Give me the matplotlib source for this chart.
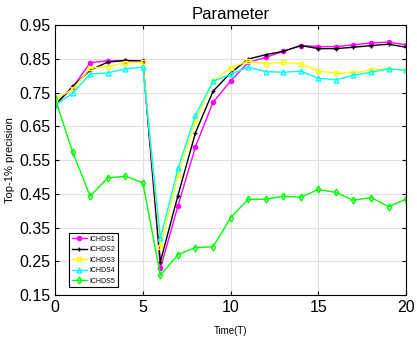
import numpy as np
import matplotlib.pyplot as plt

plt.rcParams['font.family'] = ['Liberation Sans', 'DejaVu Sans']

t = np.arange(21)

ichds1 = [0.713, 0.765, 0.838, 0.844, 0.844, 0.844, 0.229, 0.414, 0.590, 0.721, 0.784,
          0.839, 0.854, 0.872, 0.889, 0.886, 0.886, 0.891, 0.897, 0.899, 0.891]
ichds2 = [0.713, 0.768, 0.816, 0.840, 0.845, 0.843, 0.249, 0.445, 0.631, 0.754, 0.808,
          0.849, 0.862, 0.872, 0.889, 0.880, 0.880, 0.884, 0.889, 0.893, 0.884]
ichds3 = [0.729, 0.760, 0.822, 0.827, 0.838, 0.840, 0.293, 0.506, 0.666, 0.783, 0.823,
          0.843, 0.835, 0.839, 0.835, 0.814, 0.807, 0.808, 0.817, 0.821, 0.816]
ichds4 = [0.712, 0.748, 0.805, 0.808, 0.820, 0.825, 0.318, 0.525, 0.683, 0.783, 0.804,
          0.825, 0.812, 0.810, 0.813, 0.792, 0.788, 0.801, 0.810, 0.820, 0.816]
ichds5 = [0.733, 0.574, 0.443, 0.497, 0.502, 0.483, 0.209, 0.270, 0.291, 0.293, 0.379,
          0.434, 0.434, 0.443, 0.440, 0.463, 0.454, 0.431, 0.439, 0.412, 0.434]

names = ['ICHDS1', 'ICHDS2', 'ICHDS3', 'ICHDS4', 'ICHDS5']
series = [ichds1, ichds2, ichds3, ichds4, ichds5]
colors = ['#ff00ff', '#000000', '#ffff00', '#00ffff', '#00ff00']
markers = ['o', '+', 's', '^', 'd']

fig = plt.figure(figsize=(4.17, 3.42), dpi=100)
ax = fig.add_axes([0.132, 0.137, 0.842, 0.790])

for y, nm, c, m in zip(series, names, colors, markers):
    filled = m in ('o', '+')
    ax.plot(t, y, color=c, marker=m, markersize=3.5 if m != 'o' else 3,
            markerfacecolor=c if filled else 'none', markeredgecolor=c,
            linewidth=1.0, label=nm)

ax.set_xlim(0, 20)
ax.set_ylim(0.15, 0.95)
ax.set_xticks([0, 5, 10, 15, 20])
ax.set_yticks(np.arange(0.15, 0.96, 0.1))
ax.set_yticklabels(['%.2f' % v for v in np.arange(0.15, 0.96, 0.1)])
ax.tick_params(direction='in', labelsize=11.5, length=3, top=True, right=True)
ax.grid(True, color='#e0e0e0', linewidth=0.8)
ax.set_axisbelow(True)
for s in ax.spines.values():
    s.set_linewidth(0.8)

ax.set_title('Parameter', fontsize=12, pad=4)
ax.set_xlabel('Time(T)', fontsize=7, labelpad=8)
ax.set_ylabel('Top-1% precision', fontsize=8, labelpad=3)

leg = ax.legend(loc='lower left', bbox_to_anchor=(0.04, 0.03), fontsize=5,
                fancybox=False, edgecolor='black', framealpha=1,
                handlelength=2.2, borderpad=0.35, labelspacing=0.5,
                handletextpad=0.4, borderaxespad=0)
leg.get_frame().set_linewidth(0.8)

fig.savefig('out.png', dpi=100)
